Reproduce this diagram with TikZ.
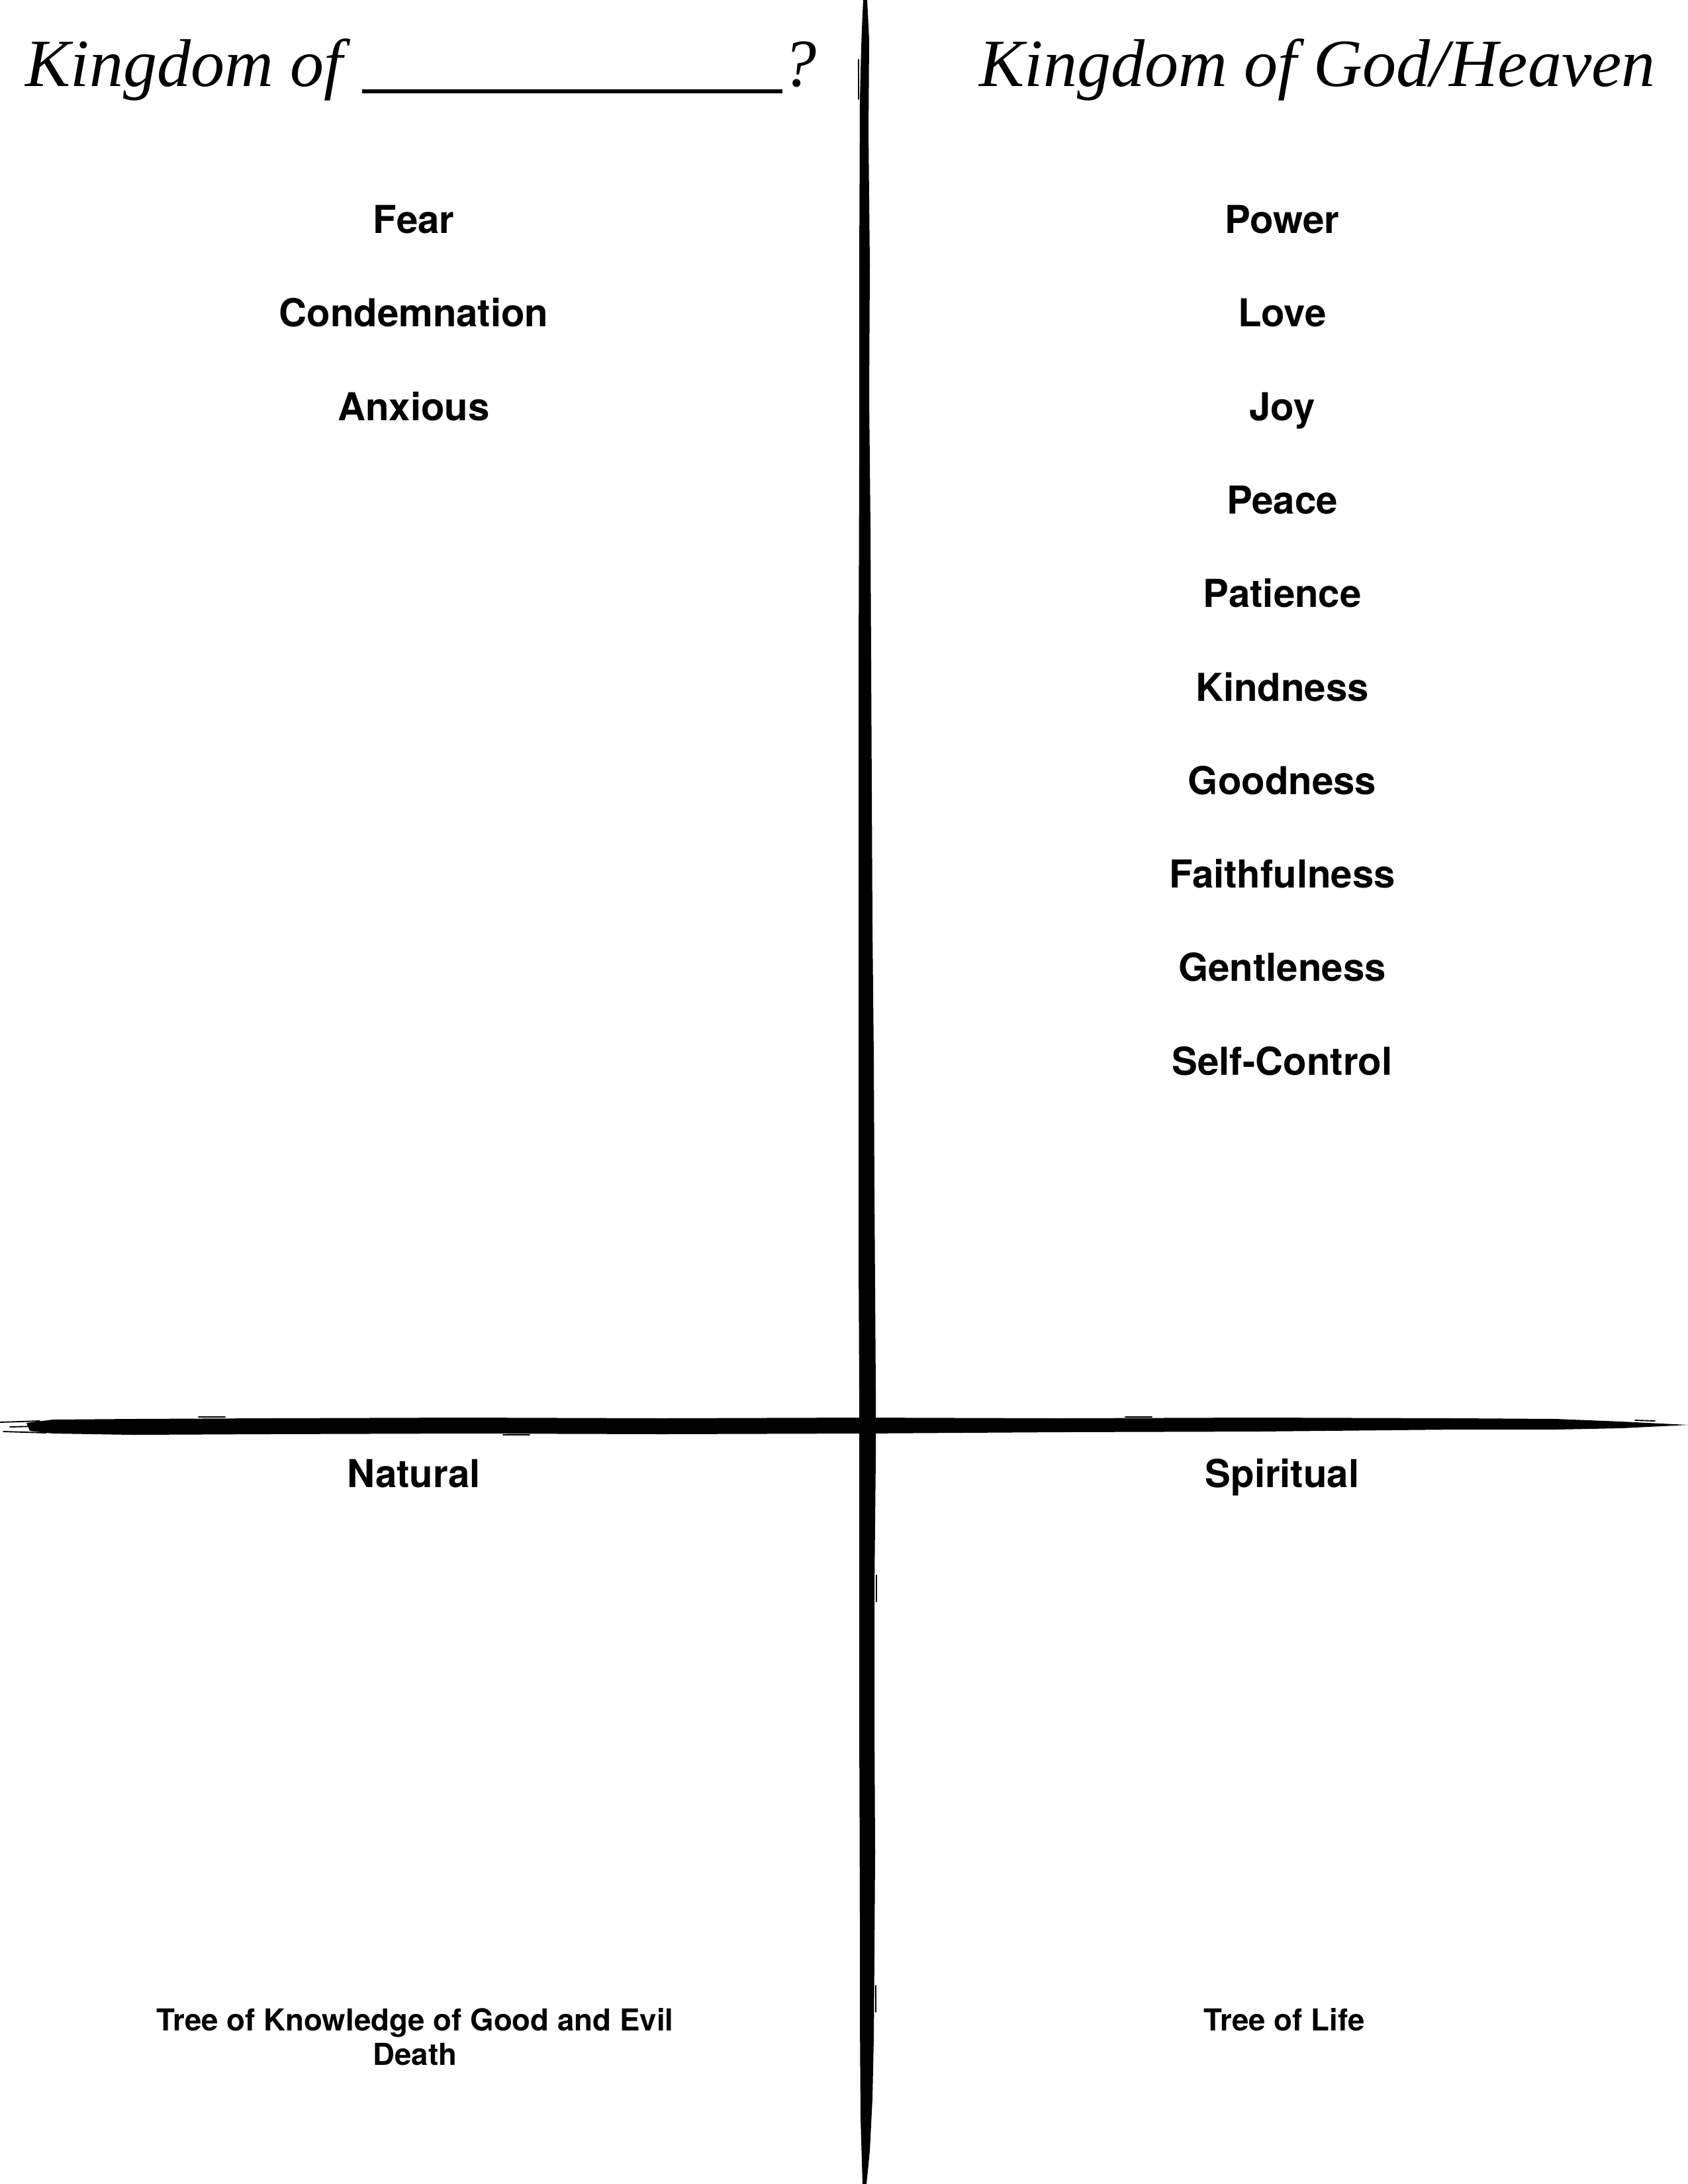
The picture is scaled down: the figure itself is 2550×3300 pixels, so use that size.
\documentclass[tikz,border=0pt]{standalone}
\usepackage{fontspec}
\setsansfont{TeX Gyre Heros}
\newfontfamily\headfont{Liberation Serif}
\begin{document}
\begin{tikzpicture}[x=0.084667mm,y=-0.084667mm,
  word/.style={font=\sffamily\bfseries\fontsize{14}{17}\selectfont, inner sep=0pt, anchor=base},
  note/.style={font=\sffamily\bfseries\fontsize{11}{12.5}\selectfont, inner sep=0pt, anchor=base},
  heading/.style={font=\headfont\itshape\fontsize{24.6}{29}\selectfont, inner sep=0pt, anchor=base west},
  ink/.style={fill=black, draw=none},
  fleck/.style={black, line width=0.45pt, line cap=round}]
\useasboundingbox[fill=white] (0,0) rectangle (2550,3300);

% ---- vertical brush stroke ----
\fill[ink] (1304,0) -- (1310,0) -- (1313,60) -- (1312,200) -- (1314,400) -- (1313,600)
  -- (1315,800) -- (1316,1000) -- (1317,1200) -- (1318,1400) -- (1320,1600)
  -- (1321,1800) -- (1322,1950) -- (1323,2100) -- (1323,2200) -- (1321,2400)
  -- (1321,2600) -- (1322,2800) -- (1321,2950) -- (1320,3080) -- (1318,3170)
  -- (1314,3250) -- (1309,3300) -- (1303,3300) -- (1300,3200) -- (1299,3050)
  -- (1299,2900) -- (1298,2600) -- (1298,2300) -- (1298,2100) -- (1297,1900)
  -- (1297,1600) -- (1297,1300) -- (1297,1000) -- (1298,700) -- (1298,400)
  -- (1299,150) -- (1301,70) -- (1303,20) -- cycle;

% ---- horizontal brush stroke ----
\fill[ink] (40,2150) -- (80,2145) -- (200,2144) -- (400,2143) -- (700,2142)
  -- (1000,2143) -- (1300,2142) -- (1600,2143) -- (1900,2142) -- (2200,2143)
  -- (2350,2144) -- (2450,2148) -- (2550,2153) -- (2450,2158) -- (2350,2160)
  -- (2200,2160) -- (1900,2163) -- (1600,2164) -- (1300,2166) -- (1000,2167)
  -- (700,2166) -- (400,2167) -- (200,2168) -- (80,2166) -- (45,2162) -- cycle;

% stray bristle marks along the edges
\draw[fleck] (0,2149) -- (60,2147);
\draw[fleck] (5,2163) -- (70,2165);
\draw[fleck] (15,2156) -- (55,2155);
\draw[fleck] (300,2141) -- (340,2141);
\draw[fleck] (760,2168) -- (800,2168);
\draw[fleck] (1700,2141) -- (1740,2141);
\draw[fleck] (2470,2146) -- (2500,2147);
\draw[fleck] (1297,90) -- (1297,150);
\draw[fleck] (1324,2380) -- (1324,2420);
\draw[fleck] (1323,3000) -- (1323,3040);

% ---- headings ----
\node[heading] (lefthead) at (38,130)
  {Kingdom of\hspace{7pt}\rule[-2.7pt]{153pt}{1.4pt}?};
\node[heading] (righthead) at (1479,130) {Kingdom of God/Heaven};

% ---- left column ----
\node[word] (fear) at (625,352) {Fear};
\node[word] (condemnation) at (625,493) {Condemnation};
\node[word] (anxious) at (625,635) {Anxious};

% ---- right column ----
\node[word] (power) at (1937,352) {Power};
\node[word] (love) at (1937,493) {Love};
\node[word] (joy) at (1937,635) {Joy};
\node[word] (peace) at (1937,776) {Peace};
\node[word] (patience) at (1937,917) {Patience};
\node[word] (kindness) at (1937,1059) {Kindness};
\node[word] (goodness) at (1937,1200) {Goodness};
\node[word] (faithfulness) at (1937,1341) {Faithfulness};
\node[word] (gentleness) at (1937,1482) {Gentleness};
\node[word] (selfcontrol) at (1937,1624) {Self-Control};

% ---- lower quadrants ----
\node[word] (natural) at (625,2247) {Natural};
\node[word] (spiritual) at (1937,2247) {Spiritual};
\node[note] (knowledge) at (627,3068) {Tree of Knowledge of Good and Evil};
\node[note] (death) at (627,3120) {Death};
\node[note] (life) at (1940,3068) {Tree of Life};
\end{tikzpicture}
\end{document}
